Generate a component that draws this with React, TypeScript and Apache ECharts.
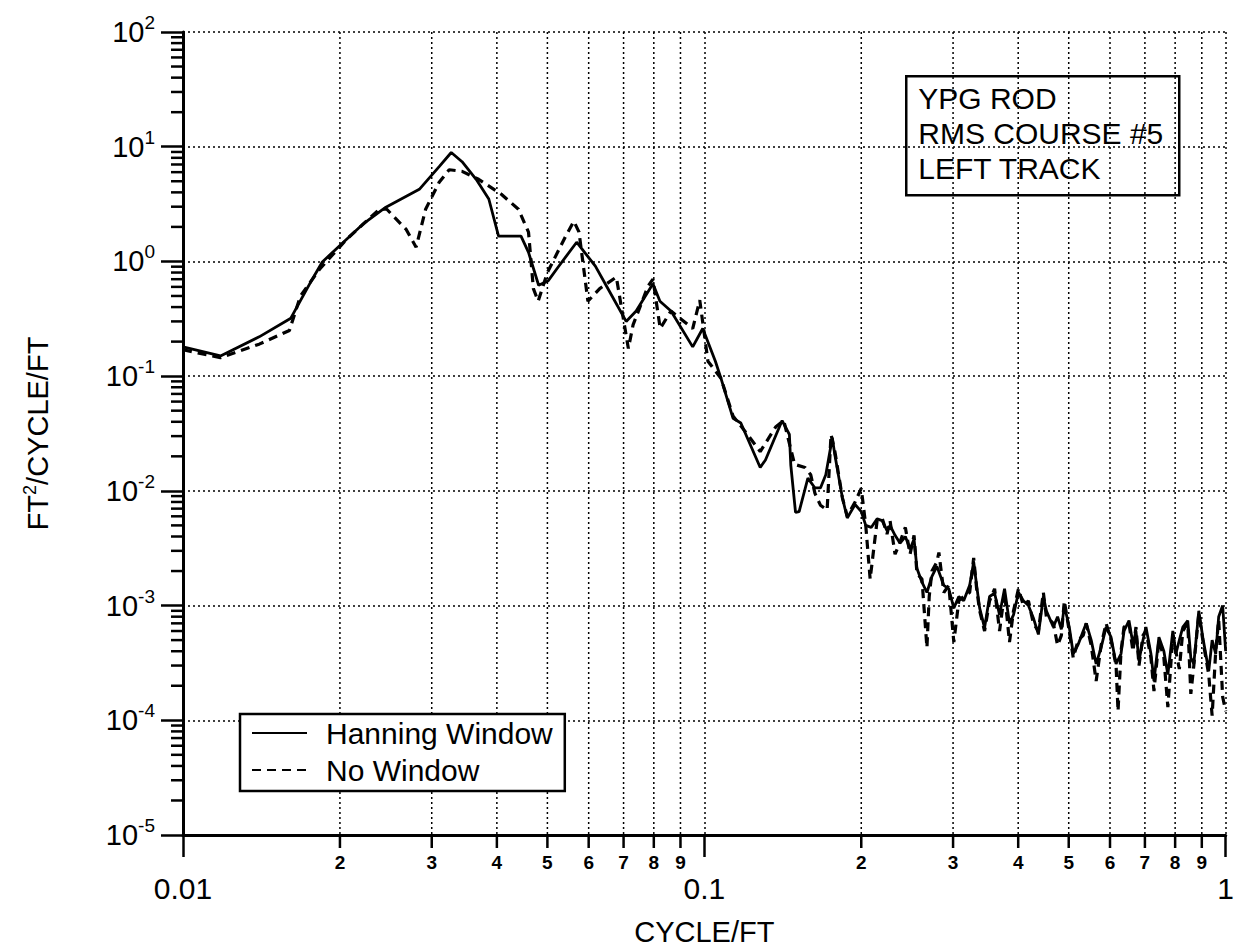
import React, { useEffect, useRef } from "react";
import * as echarts from "echarts";

// ---------- data ----------
const hanningFreq = [
  0.0100, 0.0118, 0.0140, 0.0161, 0.0177, 0.0185, 0.0206, 0.0221, 0.0245, 0.0284,
  0.0310, 0.0327, 0.0343, 0.0365, 0.0386, 0.0403, 0.0445, 0.0460, 0.0481, 0.0502,
  0.0524, 0.0569, 0.0618, 0.0649, 0.0708, 0.0740, 0.0797, 0.0822, 0.0863, 0.0950,
  0.0993, 0.1050, 0.1076, 0.1135, 0.1175, 0.1280, 0.1310, 0.1410, 0.1456, 0.1465,
  0.1496, 0.1520, 0.1580, 0.1630, 0.1670, 0.1710, 0.1760, 0.1780, 0.1840, 0.1880,
  0.1946, 0.2000, 0.2040, 0.2090, 0.2145, 0.2193, 0.2241, 0.2271, 0.2322, 0.2374,
  0.2430, 0.2481, 0.2525, 0.2558, 0.2615, 0.2673, 0.2733, 0.2793, 0.2880, 0.2944,
  0.3010, 0.3077, 0.3144, 0.3228, 0.3286, 0.3329, 0.3374, 0.3448, 0.3525, 0.3604,
  0.3684, 0.3766, 0.3849, 0.3918, 0.4005, 0.4093, 0.4185, 0.4277, 0.4373, 0.4470,
  0.4530, 0.4671, 0.4760, 0.4840, 0.4904, 0.5012, 0.5101, 0.5215, 0.5331, 0.5402,
  0.5522, 0.5644, 0.5769, 0.5898, 0.6028, 0.6163, 0.6299, 0.6383, 0.6525, 0.6641,
  0.6729, 0.6820, 0.6941, 0.7033, 0.7189, 0.7286, 0.7447, 0.7612, 0.7747, 0.7919,
  0.8024, 0.8150, 0.8276, 0.8459, 0.8574, 0.8688, 0.8881, 0.9039, 0.9280, 0.9420,
  0.9570, 0.9697, 0.9869, 1.0000,
];
const hanningPsd = [
  0.18, 0.15, 0.22, 0.32, 0.70, 0.99, 1.56, 2.10, 2.97, 4.25,
  6.7, 8.9, 7.4, 5.2, 3.5, 1.66, 1.66, 1.2, 0.62, 0.68,
  0.89, 1.47, 0.91, 0.61, 0.30, 0.37, 0.64, 0.45, 0.37, 0.18,
  0.26, 0.135, 0.096, 0.043, 0.039, 0.016, 0.0186, 0.041, 0.031, 0.0168,
  0.0065, 0.0066, 0.0129, 0.0106, 0.0106, 0.0138, 0.029, 0.0205, 0.0087, 0.0058,
  0.0076, 0.0066, 0.0050, 0.0048, 0.0057, 0.0055, 0.0045, 0.0050, 0.0041, 0.0035,
  0.0040, 0.0031, 0.0038, 0.0021, 0.0016, 0.0013, 0.0018, 0.0022, 0.0015, 0.0014,
  0.00095, 0.0012, 0.0011, 0.0015, 0.0024, 0.0015, 0.00095, 0.00064, 0.0012, 0.00128,
  0.00083, 0.0014, 0.0007, 0.00083, 0.0013, 0.0011, 0.0010, 0.00078, 0.00056, 0.0012,
  0.0009, 0.00065, 0.0008, 0.00062, 0.0010, 0.00065, 0.00038, 0.00046, 0.0006, 0.0007,
  0.0005, 0.00031, 0.00043, 0.00065, 0.00053, 0.00031, 0.00038, 0.0006, 0.00074, 0.00046,
  0.0006, 0.00033, 0.0005, 0.00065, 0.00038, 0.00022, 0.00053, 0.0004, 0.00025, 0.0006,
  0.00038, 0.0005, 0.00065, 0.00074, 0.00035, 0.00031, 0.0009, 0.00053, 0.00027, 0.0005,
  0.00038, 0.0008, 0.0010, 0.0004,
];

const noWindowFreq = [
  0.0100, 0.0118, 0.0140, 0.0160, 0.0168, 0.0183, 0.0206, 0.0238, 0.0246, 0.0268,
  0.0280, 0.0292, 0.0310, 0.0324, 0.0343, 0.0369, 0.0408, 0.0440, 0.0460, 0.0470,
  0.0480, 0.0500, 0.0542, 0.0562, 0.0575, 0.0598, 0.0630, 0.0678, 0.0715, 0.0730,
  0.0780, 0.0797, 0.0823, 0.0863, 0.0950, 0.0980, 0.1016, 0.1076, 0.1135, 0.1210,
  0.1280, 0.1370, 0.1420, 0.1490, 0.1560, 0.1600, 0.1630, 0.1670, 0.1720, 0.1750,
  0.1780, 0.1840, 0.1880, 0.1946, 0.2000, 0.2040, 0.2080, 0.2145, 0.2193, 0.2241,
  0.2271, 0.2322, 0.2374, 0.2430, 0.2481, 0.2525, 0.2558, 0.2615, 0.2673, 0.2700,
  0.2733, 0.2793, 0.2818, 0.2880, 0.2944, 0.3010, 0.3077, 0.3144, 0.3228, 0.3286,
  0.3329, 0.3374, 0.3448, 0.3525, 0.3604, 0.3684, 0.3766, 0.3849, 0.3918, 0.4005,
  0.4093, 0.4185, 0.4277, 0.4373, 0.4470, 0.4530, 0.4671, 0.4760, 0.4840, 0.4904,
  0.5012, 0.5101, 0.5215, 0.5331, 0.5402, 0.5522, 0.5644, 0.5769, 0.5898, 0.6028,
  0.6163, 0.6217, 0.6299, 0.6383, 0.6525, 0.6641, 0.6729, 0.6820, 0.6941, 0.7033,
  0.7189, 0.7286, 0.7447, 0.7612, 0.7747, 0.7919, 0.8024, 0.8150, 0.8276, 0.8459,
  0.8574, 0.8688, 0.8881, 0.9039, 0.9280, 0.9420, 0.9570, 0.9697, 0.9869, 1.0000,
];
const noWindowPsd = [
  0.17, 0.145, 0.19, 0.25, 0.50, 0.86, 1.56, 2.85, 2.85, 1.9,
  1.33, 2.85, 4.9, 6.3, 6.1, 5.2, 3.85, 2.85, 1.8, 0.58,
  0.45, 0.80, 1.66, 2.24, 1.8, 0.45, 0.58, 0.73, 0.174, 0.28,
  0.61, 0.70, 0.26, 0.37, 0.26, 0.46, 0.135, 0.096, 0.045, 0.031,
  0.022, 0.036, 0.041, 0.017, 0.016, 0.0138, 0.0095, 0.0075, 0.0068, 0.031,
  0.022, 0.0087, 0.0060, 0.0080, 0.0105, 0.0050, 0.0017, 0.0055, 0.0058, 0.0042,
  0.0055, 0.0028, 0.0036, 0.0048, 0.0028, 0.0041, 0.0019, 0.0017, 0.00043, 0.0012,
  0.0020, 0.0024, 0.0029, 0.0013, 0.0015, 0.00048, 0.0011, 0.0012, 0.0013, 0.0026,
  0.0014, 0.0009, 0.0006, 0.0011, 0.0014, 0.0006, 0.0013, 0.00048, 0.0009, 0.0014,
  0.0010, 0.0011, 0.0007, 0.0006, 0.0013, 0.0008, 0.0007, 0.00045, 0.00055, 0.0011,
  0.0006, 0.00035, 0.0005, 0.00055, 0.0007, 0.00045, 0.00022, 0.00045, 0.0007, 0.0005,
  0.0003, 0.00012, 0.0004, 0.00065, 0.0007, 0.0004, 0.00065, 0.0003, 0.00055, 0.0006,
  0.00035, 0.00018, 0.0005, 0.00035, 0.00013, 0.00055, 0.0004, 0.00028, 0.0006, 0.0007,
  0.00017, 0.0003, 0.00085, 0.0005, 0.00025, 0.00011, 0.0004, 0.00075, 0.00016, 0.00012,
];

const seriesNames = ["Hanning Window", "No Window"];
const infoLines = ["YPG ROD", "RMS COURSE #5", "LEFT TRACK"];
const xMajorLabels = ["0.01", "0.1", "1"];
const xMinorLabels = ["2", "3", "4", "5", "6", "7", "8", "9"];
const xDecades = [0.01, 0.1];
const yDecades = [1e-5, 1e-4, 1e-3, 1e-2, 1e-1, 1, 10];
const X_MIN = 0.01;
const X_MAX = 1;
const Y_MIN = 1e-5;
const Y_MAX = 100;

const FONT = "'Liberation Sans', Arial, Helvetica, sans-serif";

export default function App() {
  const ref = useRef<HTMLDivElement>(null);

  useEffect(() => {
    if (!ref.current) return;
    const chart = echarts.init(ref.current, undefined, { renderer: "svg" });

    const hanning = hanningFreq.map((f, i) => [f, hanningPsd[i]]);
    const noWin = noWindowFreq.map((f, i) => [f, noWindowPsd[i]]);

    const xMinor: number[][] = [];
    xDecades.forEach((d) => xMinorLabels.forEach((m) => xMinor.push([d * Number(m), Y_MIN])));
    const yMinor: number[][] = [];
    yDecades.forEach((d) => xMinorLabels.forEach((m) => yMinor.push([X_MIN, d * Number(m)])));

    const option: any = {
      animation: false,
      backgroundColor: "#fff",
      grid: { left: 183, right: 7, top: 32, bottom: 113, containLabel: false },
      xAxis: {
        type: "log",
        logBase: 10,
        min: X_MIN,
        max: X_MAX,
        splitNumber: 2,
        name: "CYCLE/FT",
        nameLocation: "middle",
        nameGap: 82,
        nameTextStyle: { fontFamily: FONT, fontSize: 29, color: "#000" },
        axisLine: { show: true, onZero: false, lineStyle: { color: "#000", width: 3 } },
        axisTick: { show: true, inside: false, length: 22, lineStyle: { color: "#000", width: 2.5 } },
        axisLabel: {
          margin: 38,
          fontFamily: FONT,
          fontSize: 30,
          color: "#000",
          formatter: (v: number) => {
            const idx = Math.round(Math.log10(v)) + 2;
            return xMajorLabels[idx] ?? "";
          },
        },
        splitLine: { show: true, lineStyle: { color: "#000", width: 1.5, type: [2, 3] } },
        minorTick: { show: false },
      },
      yAxis: {
        type: "log",
        logBase: 10,
        min: Y_MIN,
        max: Y_MAX,
        splitNumber: 7,
        name: "{a|FT}{s|2}{a|/CYCLE/FT}",
        nameLocation: "middle",
        nameRotate: 90,
        nameGap: 128,
        nameTextStyle: {
          color: "#000",
          rich: {
            a: { fontFamily: FONT, fontSize: 29, color: "#000", lineHeight: 34 },
            s: { fontFamily: FONT, fontSize: 18, color: "#000", verticalAlign: "top", lineHeight: 34 },
          },
        },
        axisLine: { show: true, onZero: false, lineStyle: { color: "#000", width: 3 } },
        axisTick: { show: true, inside: false, length: 22, lineStyle: { color: "#000", width: 2.5 } },
        axisLabel: {
          margin: 28,
          color: "#000",
          formatter: (v: number) => {
            const e = Math.round(Math.log10(v));
            return `{b|10}{s|${e}}`;
          },
          rich: {
            b: { fontFamily: FONT, fontSize: 29, color: "#000", lineHeight: 38, verticalAlign: "middle" },
            s: { fontFamily: FONT, fontSize: 19, color: "#000", lineHeight: 38, verticalAlign: "top" },
          },
        },
        splitLine: { show: true, lineStyle: { color: "#000", width: 1.5, type: [2, 3] } },
      },
      legend: {
        show: true,
        orient: "vertical",
        left: 240,
        top: 714,
        data: seriesNames,
        itemWidth: 55,
        itemHeight: 14,
        itemGap: 7,
        padding: [4, 12, 6, 11],
        borderColor: "#000",
        borderWidth: 2.5,
        borderRadius: 0,
        backgroundColor: "#fff",
        z: 20,
        selectedMode: false,
        itemStyle: { opacity: 0, borderWidth: 0 },
        textStyle: {
          fontFamily: FONT,
          fontSize: 30,
          color: "#000",
          lineHeight: 30,
          padding: [0, 0, 0, 14],
        },
      },
      graphic: [
        {
          type: "group",
          left: 905,
          top: 75,
          z: 30,
          children: [
            {
              type: "rect",
              shape: { x: 0, y: 0, width: 273, height: 119 },
              style: { fill: "#fff", stroke: "#000", lineWidth: 2.5 },
            },
            ...infoLines.map((t, i) => ({
              type: "text",
              x: 12,
              y: 22 + i * 35,
              style: {
                text: t,
                fill: "#000",
                font: `30px ${FONT}`,
                verticalAlign: "middle",
                align: "left",
              },
            })),
          ],
        },
      ],
      series: [
        {
          type: "custom",
          name: "xMinorGrid",
          silent: true,
          clip: false,
          z: 1,
          data: xMinor,
          renderItem: (params: any, api: any) => {
            const v = api.value(0);
            const top = api.coord([v, Y_MAX]);
            const bot = api.coord([v, Y_MIN]);
            return {
              type: "group",
              children: [
                {
                  type: "line",
                  shape: { x1: top[0], y1: top[1], x2: bot[0], y2: bot[1] },
                  style: { stroke: "#000", lineWidth: 1.5, lineDash: [2, 3] },
                },
                {
                  type: "line",
                  shape: { x1: bot[0], y1: bot[1], x2: bot[0], y2: bot[1] + 13 },
                  style: { stroke: "#000", lineWidth: 2.5 },
                },
                {
                  type: "text",
                  x: bot[0],
                  y: bot[1] + 18,
                  style: {
                    text: xMinorLabels[params.dataIndex % xMinorLabels.length],
                    fill: "#000",
                    font: `bold 19px ${FONT}`,
                    align: "center",
                    verticalAlign: "top",
                  },
                },
              ],
            };
          },
        },
        {
          type: "custom",
          name: "yMinorTicks",
          silent: true,
          clip: false,
          z: 1,
          data: yMinor,
          renderItem: (params: any, api: any) => {
            const p = api.coord([X_MIN, api.value(1)]);
            return {
              type: "line",
              shape: { x1: p[0] - 12, y1: p[1], x2: p[0], y2: p[1] },
              style: { stroke: "#000", lineWidth: 2.5 },
            };
          },
        },
        {
          type: "line",
          name: seriesNames[0],
          data: hanning,
          symbol: "none",
          z: 5,
          lineStyle: { color: "#000", width: 2.8, type: "solid" },
          itemStyle: { color: "#000" },
        },
        {
          type: "line",
          name: seriesNames[1],
          data: noWin,
          symbol: "none",
          z: 4,
          lineStyle: { color: "#000", width: 3.2, type: [9, 6] },
          itemStyle: { color: "#000" },
        },
      ],
    };

    chart.setOption(option);
    return () => chart.dispose();
  }, []);

  return (
    <div
      ref={ref}
      style={{ position: "fixed", left: 0, top: 0, width: 1237, height: 951, background: "#fff" }}
    />
  );
}
